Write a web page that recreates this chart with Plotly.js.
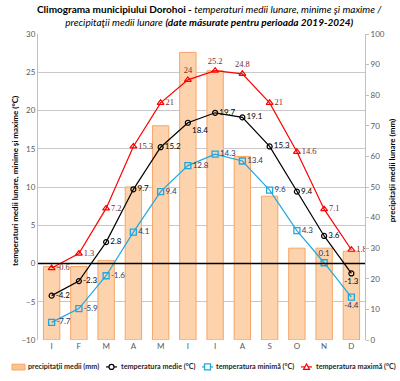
<!DOCTYPE html>
<html>
<head>
<meta charset="utf-8">
<script src="https://cdn.plot.ly/plotly-3.0.1.min.js"></script>
<style>
html,body{margin:0;padding:0;background:#fff;}
#chart{width:400px;height:381px;outline:1px solid #bfbfbf;outline-offset:-1px;}
</style>
</head>
<body>
<div id="chart"></div>
<script>
const months = ["I","F","M","A","M","I","I","A","S","O","N","D"];
const monthIdx = [0,1,2,3,4,5,6,7,8,9,10,11];
const precip = [24, 24, 26, 50, 70, 94, 88, 60, 47, 30, 30, 29];
const tMean = [-4.2, -2.3, 2.8, 9.7, 15.2, 18.4, 19.7, 19.1, 15.3, 9.4, 3.6, -1.3];
const tMin = [-7.7, -5.9, -1.6, 4.1, 9.4, 12.8, 14.3, 13.4, 9.6, 4.3, 0.1, -4.4];
const tMax = [-0.6, 1.3, 7.2, 15.3, 21, 24, 25.2, 24.8, 21, 14.6, 7.1, 1.8];
const seriesNames = ["precipitaţii medii (mm)", "temperatura medie (°C)", "temperatura minimă (°C)", "temperatura maximă (°C)"];

const meanPos = ["middle right","middle right","middle right","middle right","middle right","bottom right","middle right","middle right","middle right","middle right","middle right","bottom center"];
const minPos = ["middle right","middle right","middle right","middle right","middle right","middle right","middle right","middle right","middle right","middle right","top center","bottom center"];
const maxPos = ["middle right","middle right","middle right","middle right","middle right","top center","top center","top center","middle right","middle right","middle right","middle right"];

const F = "Lato, Liberation Sans, Arial, sans-serif";
const C_BAR = "#fcd3ad", C_BAR_LINE = "#f6a565";
const C_MEAN = "#000000", C_MIN = "#1fa8e0", C_MAX = "#ff0000";

const traces = [
  {
    type: "bar", name: seriesNames[0],
    x: monthIdx, y: precip, yaxis: "y",
    width: 0.6,
    marker: {color: C_BAR, line: {color: C_BAR_LINE, width: 1}},
    showlegend: false
  },
  {
    type: "scatter", mode: "lines+markers+text", name: seriesNames[1],
    x: monthIdx, y: tMean, yaxis: "y2",
    line: {color: C_MEAN, width: 1.2},
    marker: {symbol: "circle-open", size: 5, color: C_MEAN, line: {width: 1.2}},
    text: tMean.map(String), textposition: meanPos,
    textfont: {family: F, size: 8, color: "#000000"},
    showlegend: false
  },
  {
    type: "scatter", mode: "lines+markers+text", name: seriesNames[2],
    x: monthIdx, y: tMin, yaxis: "y2",
    line: {color: C_MIN, width: 1.2},
    marker: {symbol: "square-open", size: 6, color: C_MIN, line: {width: 1.3}},
    text: tMin.map(String), textposition: minPos,
    textfont: {family: F, size: 8, color: "#1f3a6e"},
    showlegend: false
  },
  {
    type: "scatter", mode: "lines+markers+text", name: seriesNames[3],
    x: monthIdx, y: tMax, yaxis: "y2",
    line: {color: C_MAX, width: 1.2},
    marker: {symbol: "triangle-up-open", size: 6, color: C_MAX, line: {width: 1.2}},
    text: tMax.map(String), textposition: maxPos,
    textfont: {family: "Liberation Serif, serif", size: 8.5, color: "#7b2c2c"},
    showlegend: false
  }
];

// custom one-row legend (paper coordinates)
const LY = -0.088;
const legendText = [-0.036, 0.249, 0.539, 0.845];
const annotations = [
  {xref: "paper", yref: "paper", x: 0.523, y: 1.059, xanchor: "center", yanchor: "middle",
   showarrow: false, align: "center",
   text: "<b>Climograma municipiului Dorohoi - </b><i>temperaturi medii lunare, minime şi maxime /</i><br><i>precipitaţii medii lunare</i> <b><i>(date măsurate pentru perioada 2019-2024)</i></b>",
   font: {family: F, size: 10, color: "#000000"}},
  {xref: "paper", yref: "paper", x: -0.070, y: 0.52, xanchor: "center", yanchor: "middle",
   showarrow: false, textangle: -90,
   text: "<b>temperaturi medii lunare, minime şi maxime (°C)</b>",
   font: {family: F, size: 8, color: "#000000"}},
  {xref: "paper", yref: "paper", x: 1.083, y: 0.552, xanchor: "center", yanchor: "middle",
   showarrow: false, textangle: -90,
   text: "<b>precipitaţii medii lunare (mm)</b>",
   font: {family: F, size: 8, color: "#000000"}}
];
seriesNames.forEach((n, i) => annotations.push({
  xref: "paper", yref: "paper", x: legendText[i], y: LY, xanchor: "left", yanchor: "middle",
  showarrow: false, text: "<b>" + n + "</b>", font: {family: F, size: 7.2, color: "#262626"}
}));

const shapes = [
  {type: "line", xref: "paper", x0: 0, x1: 1, yref: "y2", y0: 0, y1: 0,
   line: {color: "#000000", width: 1.5}, layer: "above"},
  // legend symbols
  {type: "rect", xref: "paper", yref: "paper", x0: -0.0795, x1: -0.0398, y0: -0.098, y1: -0.079,
   fillcolor: "#fbc48f", line: {color: C_BAR_LINE, width: 1}},
  {type: "line", xref: "paper", yref: "paper", x0: 0.208, x1: 0.2416, y0: LY, y1: LY, line: {color: C_MEAN, width: 1.2}},
  {type: "circle", xref: "paper", yref: "paper", xsizemode: "pixel", ysizemode: "pixel",
   xanchor: 0.2248, yanchor: LY, x0: -2.5, x1: 2.5, y0: -2.5, y1: 2.5,
   fillcolor: "#ffffff", line: {color: C_MEAN, width: 1.2}},
  {type: "line", xref: "paper", yref: "paper", x0: 0.5015, x1: 0.5352, y0: LY, y1: LY, line: {color: C_MIN, width: 1.2}},
  {type: "rect", xref: "paper", yref: "paper", xsizemode: "pixel", ysizemode: "pixel",
   xanchor: 0.5183, yanchor: LY, x0: -3, x1: 3, y0: -3, y1: 3,
   fillcolor: "#ffffff", line: {color: C_MIN, width: 1.3}},
  {type: "line", xref: "paper", yref: "paper", x0: 0.8043, x1: 0.8379, y0: LY, y1: LY, line: {color: C_MAX, width: 1.2}},
  {type: "path", xref: "paper", yref: "paper", xsizemode: "pixel", ysizemode: "pixel",
   xanchor: 0.8211, yanchor: LY, path: "M -3 -2.5 L 3 -2.5 L 0 3 Z",
   fillcolor: "#ffffff", line: {color: C_MAX, width: 1.2}}
];

const layout = {
  width: 400, height: 381,
  margin: {l: 38, r: 35, t: 34, b: 41},
  paper_bgcolor: "#ffffff", plot_bgcolor: "#ffffff",
  font: {family: F, size: 8, color: "#595959"},
  showlegend: false,
  annotations: annotations,
  shapes: shapes,
  xaxis: {
    tickmode: "array", tickvals: monthIdx, ticktext: months,
    range: [-0.5, 11.5],
    showgrid: false, zeroline: false, showline: false,
    ticks: "", tickfont: {size: 8, color: "#595959"}
  },
  yaxis: {
    range: [0, 100], side: "right", dtick: 10,
    showgrid: false, zeroline: false,
    showline: true, linecolor: "#bfbfbf", linewidth: 1,
    ticks: "outside", ticklen: 3, tickcolor: "#bfbfbf",
    tickfont: {size: 8, color: "#595959"}
  },
  yaxis2: {
    range: [-10, 30], side: "left", overlaying: "y", dtick: 5,
    showgrid: true, gridcolor: "#c8c8c8", gridwidth: 1,
    zeroline: false,
    showline: true, linecolor: "#bfbfbf", linewidth: 1,
    ticks: "", tickfont: {size: 8, color: "#595959"}
  }
};

Plotly.newPlot("chart", traces, layout, {displayModeBar: false, staticPlot: true});
</script>
</body>
</html>
